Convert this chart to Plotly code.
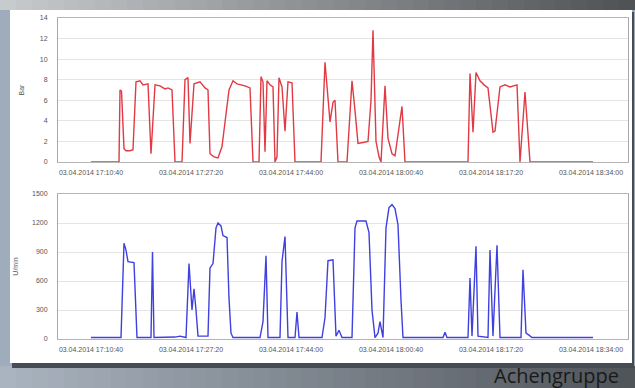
import pandas as pd
import plotly.graph_objects as go

# ---------------- data ----------------
BASE = "2014-04-03 17:10:40"

# pressure (Bar) – seconds after BASE, values
pressure_t = [0, 280, 290, 305, 330, 350, 390, 420, 450, 490, 520, 570, 600, 640, 690, 740, 770, 810,
              840, 910, 940, 970, 990, 1030, 1090, 1140, 1170, 1190, 1230, 1270, 1310, 1350, 1380,
              1420, 1460, 1540, 1590, 1620, 1680, 1700, 1720, 1740, 1760, 1790, 1820, 1840, 1860,
              1880, 1910, 1940, 1970, 2010, 2040, 2300, 2340, 2390, 2420, 2440, 2470, 2560, 2610,
              2640, 2670, 2720, 2770, 2800, 2820, 2850, 2880, 2900, 2940, 2970, 3010, 3040, 3070,
              3110, 3140, 3770, 3790, 3820, 3850, 3890, 3930, 3970, 4020, 4040, 4090, 4140, 4190,
              4260, 4290, 4340, 4390, 5020]
pressure_bar = [0, 0, 7.0, 6.9, 1.3, 1.1, 1.1, 1.2, 7.8, 7.9, 7.5, 7.6, 0.8, 7.5, 7.4, 7.1, 7.2, 7.0,
                0, 0, 8.0, 8.2, 1.8, 7.6, 7.8, 7.2, 7.0, 0.8, 0.5, 0.4, 1.5, 4.5, 7.0,
                7.9, 7.6, 7.4, 7.2, 0, 0, 8.3, 7.8, 1.0, 7.9, 7.5, 7.3, 0, 0.5,
                8.2, 7.3, 3.0, 7.8, 7.7, 0, 0, 9.7, 3.9, 5.8, 6.0, 0, 0, 7.9,
                5.0, 1.8, 1.9, 2.0, 6.0, 12.8, 2.0, 0.5, 0, 7.4, 2.3, 0.8, 0.6, 2.9,
                5.4, 0, 0, 8.6, 2.9, 8.7, 7.9, 7.5, 7.2, 2.9, 3.0, 7.3, 7.5, 7.3,
                7.5, 0, 6.8, 0, 0]

# speed (U/min) – seconds after BASE, values
speed_t = [0, 300, 330, 350, 370, 430, 460, 600, 615, 630, 840, 890, 950, 980, 1010, 1030, 1050, 1070,
           1170, 1190, 1220, 1250, 1270, 1300, 1320, 1360, 1380, 1400, 1420, 1690, 1720, 1750, 1770,
           1890, 1910, 1940, 1970, 2040, 2060, 2080, 2310, 2340, 2370, 2420, 2450, 2480, 2510, 2610,
           2640, 2660, 2750, 2780, 2810, 2840, 2870, 2890, 2920, 2950, 2980, 3010, 3040, 3070, 3100,
           3120, 3520, 3540, 3560, 3770, 3790, 3810, 3850, 3870, 3970, 3990, 4020, 4060, 4090, 4300,
           4320, 4350, 4380, 4410, 5020]
speed_rpm = [15, 15, 990, 920, 800, 790, 15, 15, 900, 15, 20, 30, 15, 780, 300, 520, 300, 30,
             30, 735, 780, 1150, 1200, 1170, 1070, 1050, 420, 60, 15, 15, 180, 860, 15,
             15, 800, 1060, 15, 15, 280, 15, 15, 220, 810, 820, 30, 90, 15, 15,
             1150, 1220, 1220, 1100, 300, 15, 60, 180, 15, 1150, 1360, 1390, 1350, 1180, 400,
             15, 15, 70, 15, 15, 630, 30, 960, 30, 15, 920, 30, 970, 15, 15,
             715, 60, 40, 15, 15]

tick_seconds = [0, 1000, 2000, 3000, 4000, 5000]
pressure_ticks = [0, 2, 4, 6, 8, 10, 12, 14]
speed_ticks = [0, 300, 600, 900, 1200, 1500]
footer_text = "Achengruppe"

# ---------------- build ----------------
base = pd.Timestamp(BASE)
px_t = [base + pd.Timedelta(seconds=s) for s in pressure_t]
sp_t = [base + pd.Timedelta(seconds=s) for s in speed_t]
tick_vals = [base + pd.Timedelta(seconds=s) for s in tick_seconds]
x_range = [base - pd.Timedelta(seconds=330), base + pd.Timedelta(seconds=5370)]

W, H = 635, 388
fig = go.Figure()
fig.add_trace(go.Scatter(x=px_t, y=pressure_bar, mode="lines", xaxis="x2", yaxis="y2",
                         line=dict(color="#e23a44", width=1.4), showlegend=False))
fig.add_trace(go.Scatter(x=sp_t, y=speed_rpm, mode="lines", xaxis="x", yaxis="y",
                         line=dict(color="#4040e0", width=1.4), showlegend=False))

def fx(px):
    return px / W

def fy(py):
    return 1 - py / H

shapes = []
N = 40
for i in range(N):
    t = i / (N - 1)
    c = int(200 - 120 * t)
    shapes.append(dict(type="rect", xref="paper", yref="paper", x0=i / N, x1=(i + 1) / N + 0.002,
                       y0=fy(10), y1=1, fillcolor=f"rgb({c},{c + 3},{c + 6})", line_width=0, layer="below"))
    r = int(170 - 90 * t)
    g = int(180 - 95 * t)
    b = int(192 - 102 * t)
    shapes.append(dict(type="rect", xref="paper", yref="paper", x0=i / N, x1=(i + 1) / N + 0.002,
                       y0=0, y1=fy(366), fillcolor=f"rgb({r},{g},{b})", line_width=0, layer="below"))
shapes.append(dict(type="rect", xref="paper", yref="paper", x0=fx(12), x1=fx(634), y0=fy(368), y1=fy(12),
                   fillcolor="rgb(70,76,84)", line_width=0, layer="below"))
shapes.append(dict(type="rect", xref="paper", yref="paper", x0=fx(10), x1=fx(632), y0=fy(363), y1=fy(10),
                   fillcolor="white", line_width=0, layer="below"))
fig.update_layout(shapes=shapes)

tickfont = dict(family="Liberation Sans, Arial", size=7, color="#555555")
titlefont = dict(family="Liberation Sans, Arial", size=7, color="#555555")
xcommon = dict(type="date", range=x_range, tickvals=tick_vals, tickformat="%d.%m.%Y %H:%M:%S",
               showgrid=False, showline=True, linecolor="#b5b5b5", linewidth=1, mirror=True,
               ticks="", tickfont=tickfont, zeroline=False, domain=[fx(58), fx(628)],
               automargin=False, ticklabelstandoff=4)
ycommon = dict(showgrid=True, gridcolor="#e4e4e4", showline=True, linecolor="#a8a8a8", mirror=True,
               ticks="", tickfont=tickfont, zeroline=False, ticklabelstandoff=8, automargin=False)

fig.update_layout(
    width=W, height=H,
    margin=dict(l=0, r=0, t=0, b=0, autoexpand=False),
    paper_bgcolor="rgb(158,172,188)",
    plot_bgcolor="white",
    xaxis=dict(**xcommon, anchor="y"),
    yaxis=dict(**ycommon, range=[0, 1500], tickvals=speed_ticks, domain=[fy(339), fy(194)],
               anchor="x", title=dict(text="U/min", font=titlefont, standoff=12)),
    xaxis2=dict(**xcommon, anchor="y2"),
    yaxis2=dict(**ycommon, range=[0, 14], tickvals=pressure_ticks, domain=[fy(162), fy(18)],
                anchor="x2", title=dict(text="Bar", font=titlefont, standoff=14)),
    annotations=[dict(text=footer_text, xref="paper", yref="paper", x=fx(621), y=fy(375),
                      xanchor="right", yanchor="middle", showarrow=False,
                      font=dict(family="Open Sans, Noto Sans, sans-serif", size=20, color="#1a1a1a"))],
)

fig.write_html("out.html", config={"displayModeBar": False},
               post_script="document.body.style.margin='0';document.body.style.overflow='hidden';")
